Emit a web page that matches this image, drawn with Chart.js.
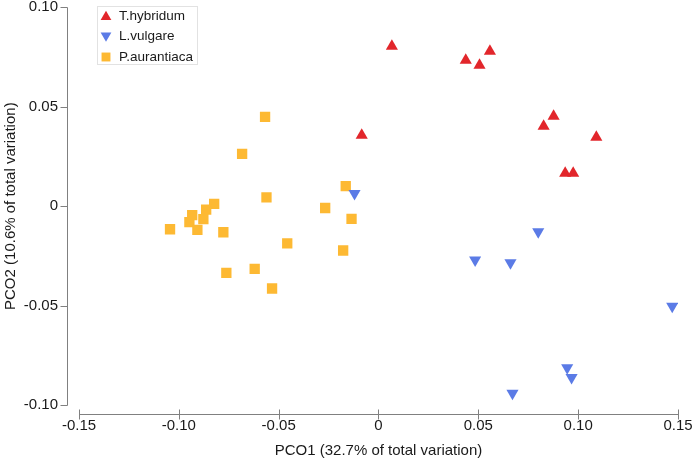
<!DOCTYPE html>
<html>
<head>
<meta charset="utf-8">
<script src="https://cdn.jsdelivr.net/npm/chart.js@4/dist/chart.umd.min.js"></script>
<style>
  html, body { margin: 0; padding: 0; background: #ffffff; }
  #c { display: block; }
</style>
</head>
<body>
<canvas id="c" width="694" height="460"></canvas>
<script>
// ---- data ----
const categories = ['T.hybridum', 'L.vulgare', 'P.aurantiaca'];

const hybridumX = [0.0067, -0.0084, 0.0437, 0.0506, 0.0558, 0.0877, 0.0827, 0.1091, 0.0935, 0.0975];
const hybridumY = [0.0804, 0.0357, 0.0734, 0.0709, 0.0779, 0.0452, 0.0402, 0.0347, 0.0166, 0.0166];

const vulgareX = [-0.0120, 0.0800, 0.0484, 0.0661, 0.1471, 0.0945, 0.0967, 0.0671];
const vulgareY = [0.0064, -0.0129, -0.0271, -0.0284, -0.0503, -0.0812, -0.0862, -0.0941];

const aurantiacaX = [-0.0568, -0.0683, -0.0561, -0.0823, -0.0863, -0.0933, -0.0877, -0.0947, -0.1044, -0.0907,
                     -0.0777, -0.0457, -0.0620, -0.0762, -0.0533, -0.0164, -0.0267, -0.0135, -0.0177];
const aurantiacaY = [0.0449, 0.0263, 0.0044, 0.0012, -0.0017, -0.0045, -0.0065, -0.0080, -0.0116, -0.0119,
                     -0.0131, -0.0187, -0.0315, -0.0335, -0.0414, 0.0101, -0.0009, -0.0064, -0.0223];

const xTicks = [-0.15, -0.10, -0.05, 0, 0.05, 0.10, 0.15];
const xTickLabels = ['-0.15', '-0.10', '-0.05', '0', '0.05', '0.10', '0.15'];
const yTicks = [-0.10, -0.05, 0, 0.05, 0.10];
const yTickLabels = ['-0.10', '-0.05', '0', '0.05', '0.10'];

const xTitle = 'PCO1 (32.7% of total variation)';
const yTitle = 'PCO2 (10.6% of total variation)';

// ---- styles ----
const colors = ['#e2262b', '#5b7be6', '#fdb933'];
const FONT = 'Arial, "Liberation Sans", sans-serif';
const AXIS_COLOR = '#808080';
const TEXT_COLOR = '#1a1a1a';

function pts(xs, ys) { return xs.map((x, i) => ({ x: x, y: ys[i] })); }

const axesPlugin = {
  id: 'axesPlugin',
  beforeDatasetsDraw(chart) {
    const ctx = chart.ctx;
    const xs = chart.scales.x, ys = chart.scales.y;
    const area = chart.chartArea;
    ctx.save();
    ctx.strokeStyle = AXIS_COLOR;
    ctx.lineWidth = 1;
    // y axis
    const yx = Math.round(area.left) + 0.5;
    const yTop = ys.getPixelForValue(yTicks[yTicks.length - 1]);
    const yBot = ys.getPixelForValue(yTicks[0]);
    ctx.beginPath();
    ctx.moveTo(yx, Math.round(yTop) + 0.5);
    ctx.lineTo(yx, Math.round(yBot) + 0.5);
    yTicks.forEach(v => {
      const py = Math.round(ys.getPixelForValue(v)) + 0.5;
      ctx.moveTo(yx - 7, py);
      ctx.lineTo(yx, py);
    });
    ctx.stroke();
    // x axis
    const xy = Math.round(area.bottom) + 0.5;
    const xL = xs.getPixelForValue(xTicks[0]);
    const xR = xs.getPixelForValue(xTicks[xTicks.length - 1]);
    ctx.beginPath();
    ctx.moveTo(Math.round(xL) + 0.5, xy);
    ctx.lineTo(Math.round(xR) + 0.5, xy);
    xTicks.forEach(v => {
      const px = Math.round(xs.getPixelForValue(v)) + 0.5;
      ctx.moveTo(px, xy - 5);
      ctx.lineTo(px, xy + 5);
    });
    ctx.stroke();

    // axis titles
    ctx.fillStyle = TEXT_COLOR;
    ctx.font = '15px ' + FONT;
    ctx.textAlign = 'center';
    ctx.textBaseline = 'middle';
    ctx.fillText(xTitle, (xL + xR) / 2, 451);
    ctx.translate(11, (yTop + yBot) / 2);
    ctx.rotate(-Math.PI / 2);
    ctx.fillText(yTitle, 0, 0);
    ctx.restore();
  }
};

function drawMarker(ctx, style, rot, x, y, r, color) {
  ctx.save();
  ctx.fillStyle = color;
  ctx.beginPath();
  if (style === 'rect') {
    const s = r * Math.SQRT1_2;
    ctx.rect(x - s, y - s, 2 * s, 2 * s);
  } else {
    const sgn = rot === 180 ? -1 : 1;
    ctx.moveTo(x, y - sgn * r);
    ctx.lineTo(x + r * Math.sin(2 * Math.PI / 3), y + sgn * r / 2);
    ctx.lineTo(x - r * Math.sin(2 * Math.PI / 3), y + sgn * r / 2);
    ctx.closePath();
  }
  ctx.fill();
  ctx.restore();
}

const legendPlugin = {
  id: 'boxLegend',
  afterDraw(chart) {
    const ctx = chart.ctx;
    ctx.save();
    ctx.fillStyle = '#ffffff';
    ctx.strokeStyle = '#e2e2e2';
    ctx.lineWidth = 1;
    ctx.fillRect(97.5, 6.5, 100, 58);
    ctx.strokeRect(97.5, 6.5, 100, 58);
    ctx.font = '13.5px ' + FONT;
    ctx.textAlign = 'left';
    ctx.textBaseline = 'middle';
    chart.data.datasets.forEach((ds, i) => {
      const cy = 16 + i * 20.5;
      drawMarker(ctx, ds.pointStyle, ds.rotation || 0, 106, cy + (ds.pointStyle === 'rect' ? 0 : (ds.rotation === 180 ? -1 : 1)), ds.pointStyle === 'rect' ? 6.3 : 6.2, ds.backgroundColor);
      ctx.fillStyle = TEXT_COLOR;
      ctx.fillText(ds.label, 119, cy);
    });
    ctx.restore();
  }
};

new Chart(document.getElementById('c'), {
  type: 'scatter',
  data: {
    datasets: [
      { label: categories[0], data: pts(hybridumX, hybridumY), pointStyle: 'triangle', rotation: 0,
        backgroundColor: colors[0], borderColor: colors[0], borderWidth: 0, pointRadius: 7, pointHoverRadius: 7 },
      { label: categories[1], data: pts(vulgareX, vulgareY), pointStyle: 'triangle', rotation: 180,
        backgroundColor: colors[1], borderColor: colors[1], borderWidth: 0, pointRadius: 7, pointHoverRadius: 7 },
      { label: categories[2], data: pts(aurantiacaX, aurantiacaY), pointStyle: 'rect', rotation: 0,
        backgroundColor: colors[2], borderColor: colors[2], borderWidth: 0, pointRadius: 7.3, pointHoverRadius: 7.3 }
    ]
  },
  options: {
    responsive: false,
    animation: false,
    devicePixelRatio: 1,
    layout: { padding: { top: 7, right: 16, bottom: 0, left: 0 } },
    plugins: { legend: { display: false }, tooltip: { enabled: false } },
    scales: {
      x: {
        type: 'linear',
        min: -0.1560,
        max: 0.15,
        border: { display: false },
        grid: { display: false, drawTicks: false },
        afterBuildTicks: s => { s.ticks = xTicks.map(v => ({ value: v })); },
        afterFit: s => { s.height = 46; s.paddingLeft = 0; s.paddingRight = 0; },
        ticks: {
          padding: 5,
          color: TEXT_COLOR,
          maxRotation: 0,
          autoSkip: false,
          font: { family: FONT, size: 15, lineHeight: 0.9 },
          callback: (v, i) => xTickLabels[i]
        }
      },
      y: {
        type: 'linear',
        min: -0.1045,
        max: 0.10,
        border: { display: false },
        grid: { display: false, drawTicks: false },
        afterBuildTicks: s => { s.ticks = yTicks.map(v => ({ value: v })); },
        afterFit: s => { s.width = 67; s.paddingTop = 0; s.paddingBottom = 0; },
        ticks: {
          padding: 9,
          color: TEXT_COLOR,
          autoSkip: false,
          font: { family: FONT, size: 15, lineHeight: 0.9 },
          callback: (v, i) => yTickLabels[i]
        }
      }
    }
  },
  plugins: [axesPlugin, legendPlugin]
});
</script>
</body>
</html>
